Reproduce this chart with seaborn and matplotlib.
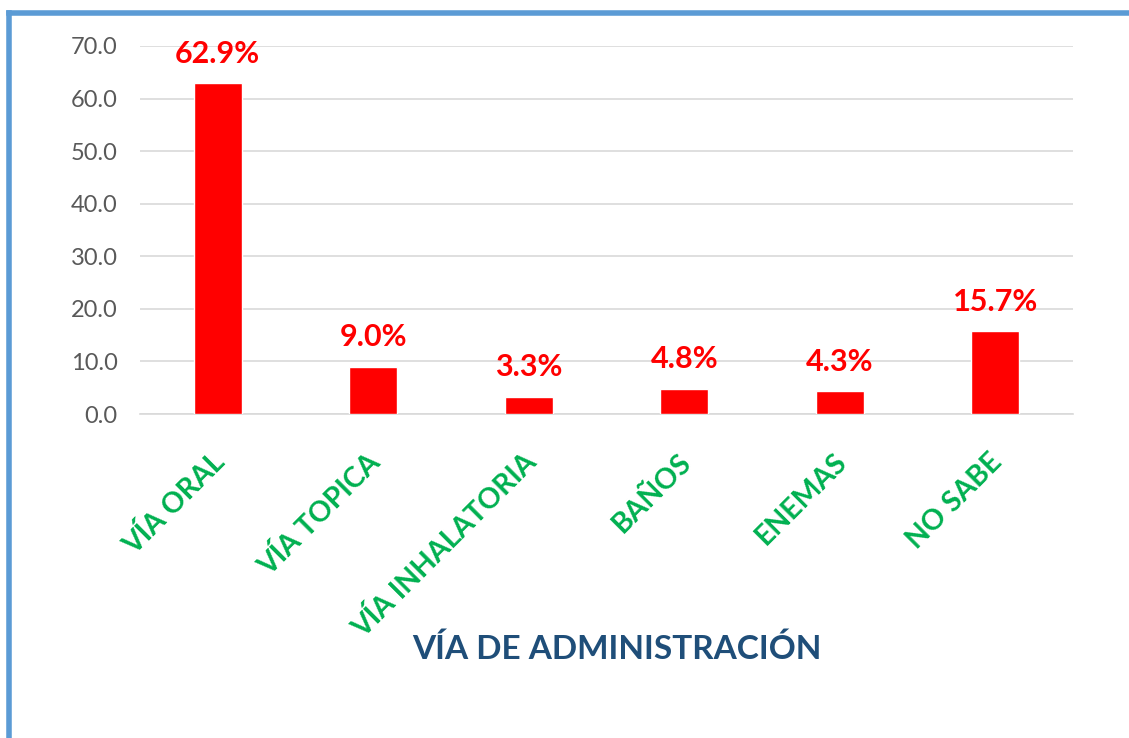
import matplotlib
matplotlib.use("Agg")
import matplotlib.pyplot as plt
import matplotlib.transforms as mtransforms
import seaborn as sns
import pandas as pd
from matplotlib.lines import Line2D

categories = ["VÍA ORAL", "VÍA TOPICA", "VÍA INHALATORIA", "BAÑOS", "ENEMAS", "NO SABE"]
values = [62.9, 9.0, 3.3, 4.8, 4.3, 15.7]
value_labels = ["62.9%", "9.0%", "3.3%", "4.8%", "4.3%", "15.7%"]
yticks = [0, 10, 20, 30, 40, 50, 60, 70]
title = "VÍA DE ADMINISTRACIÓN"

sns.set_theme(style="white")
plt.rcParams["font.family"] = ["Lato", "DejaVu Sans"]

df = pd.DataFrame({"cat": categories, "val": values})

fig = plt.figure(figsize=(11.29, 7.38), dpi=100)
ax = fig.add_axes([140/1129, 1-414/738, (1073-140)/1129, (414-46)/738])

sns.barplot(data=df, x="cat", y="val", color="#FF0000", width=0.31,
            saturation=1, ax=ax, zorder=3)

ax.set_ylim(0, 70)
ax.set_yticks(yticks)
ax.set_yticklabels([f"{t:.1f}" for t in yticks], fontsize=17, color="#595959")
ax.yaxis.grid(True, color="#D9D9D9", linewidth=1.2, zorder=0)
ax.set_axisbelow(True)
for s in ["top", "right", "left"]:
    ax.spines[s].set_visible(False)
ax.spines["bottom"].set_color("#D9D9D9")
ax.spines["bottom"].set_linewidth(1.2)
ax.tick_params(axis="y", length=0, pad=16)
ax.tick_params(axis="x", length=0, pad=10)
ax.set_xlabel("")
ax.set_ylabel("")

ax.set_xticks(range(len(categories)))
ax.set_xticklabels(categories, rotation=45, ha="right", va="center",
                   rotation_mode="anchor", fontsize=20.5, fontweight="bold",
                   color="#00B050")
offset = mtransforms.ScaledTranslation(3/100, -30/100, fig.dpi_scale_trans)
for lbl in ax.get_xticklabels():
    lbl.set_transform(lbl.get_transform() + offset)

for i, (v, lab) in enumerate(zip(values, value_labels)):
    ax.annotate(lab, (i, v), xytext=(0, 11), textcoords="offset points",
                ha="center", va="bottom", fontsize=22, fontweight="bold",
                color="#FF0000")

fig.text(617/1129, 1-649/738, title, ha="center", va="center",
         fontsize=24, fontweight="bold", color="#1F4E79")

blue = "#5B9BD5"
fig.add_artist(Line2D([8.5/1129, 8.5/1129], [0, 1-12.5/738], color=blue,
                      linewidth=4, transform=fig.transFigure, solid_capstyle="projecting"))
fig.add_artist(Line2D([8.5/1129, 1], [1-12.5/738, 1-12.5/738], color=blue,
                      linewidth=4, transform=fig.transFigure, solid_capstyle="projecting"))

fig.savefig("out.png", dpi=100, facecolor="white")
